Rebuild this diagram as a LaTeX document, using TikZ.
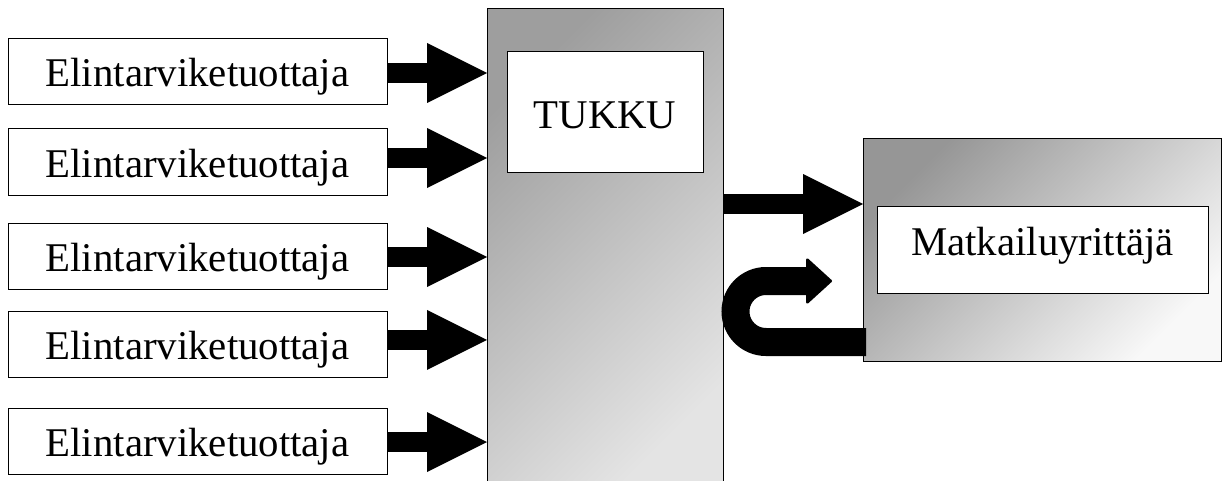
\documentclass[tikz,border=0pt]{standalone}
\usepackage{fontspec}
\setmainfont{Liberation Serif}
\usetikzlibrary{arrows.meta}
\definecolor{tukkuA}{RGB}{158,158,158}
\definecolor{tukkuB}{RGB}{228,228,228}
\definecolor{matkA}{RGB}{150,150,150}
\definecolor{matkB}{RGB}{248,248,248}
\begin{document}
\begin{tikzpicture}[x=0.75pt,y=-0.75pt,
  every node/.style={font=\fontsize{30.6pt}{36pt}\selectfont, inner sep=0pt, outer sep=0pt},
  ebox/.style={draw=black, line width=0.75pt, fill=white, minimum width=284.25pt, minimum height=49.5pt, text height=22.5pt, text depth=0pt},
  bigbox/.style={draw=black, line width=0.75pt},
  bigarrow/.style={line width=15pt, -{Triangle[length=45pt,width=45pt,line width=0pt]}},
  uarrow/.style={line width=21pt, -{Triangle[length=20pt,width=36pt,line width=2pt,round]}},
]
\useasboundingbox (0,0) rectangle (1230,481);
\fill[white] (0,0) rectangle (1230,481);

% wholesaler column
\node[bigbox, minimum width=177pt, minimum height=360.75pt, top color=tukkuA, bottom color=tukkuB, shading angle=45] (tukku) at (605,249.5) {};
\node[bigbox, fill=white, minimum width=147pt, minimum height=90pt, text height=24pt, text depth=0pt] (tukkulbl) at (605,112) {TUKKU};

% tourism entrepreneur
\node[bigbox, minimum width=268.5pt, minimum height=166.5pt, top color=matkA, bottom color=matkB, shading angle=45] (matk) at (1042,250) {};
\node[bigbox, fill=white, minimum width=248.25pt, minimum height=65.25pt, text height=8.25pt, text depth=0pt] (matklbl) at (1042.5,249.5) {Matkailuyrittäjä};

% producers
\node[ebox] (b1) at (197.5,72) {Elintarviketuottaja};
\node[ebox] (b2) at (197.5,162) {Elintarviketuottaja};
\node[ebox] (b3) at (197.5,256) {Elintarviketuottaja};
\node[ebox] (b4) at (197.5,344.5) {Elintarviketuottaja};
\node[ebox] (b5) at (197.5,441) {Elintarviketuottaja};

% arrows into TUKKU
\draw[bigarrow] ([yshift=-0.75pt]b1.east) -- ([yshift=-0.75pt]b1.east -| tukku.west);
\draw[bigarrow] ([yshift=3pt]b2.east) -- ([yshift=3pt]b2.east -| tukku.west);
\draw[bigarrow] ([yshift=-0.75pt]b3.east) -- ([yshift=-0.75pt]b3.east -| tukku.west);
\draw[bigarrow] ([yshift=3.4pt]b4.east) -- ([yshift=3.4pt]b4.east -| tukku.west);
\draw[bigarrow] ([yshift=-0.75pt]b5.east) -- ([yshift=-0.75pt]b5.east -| tukku.west);

% TUKKU -> Matkailuyrittäjä
\coordinate (r1) at (723,204);
\draw[bigarrow] (r1 -| tukku.east) -- (r1 -| matk.west);

% return U-turn arrow
\coordinate (ustart) at (866,342);
\coordinate (uend) at (832,281);
\draw[uarrow] (ustart) -- (766,342) arc[start angle=90, end angle=270, radius=30.5] -- (uend);
\end{tikzpicture}
\end{document}
